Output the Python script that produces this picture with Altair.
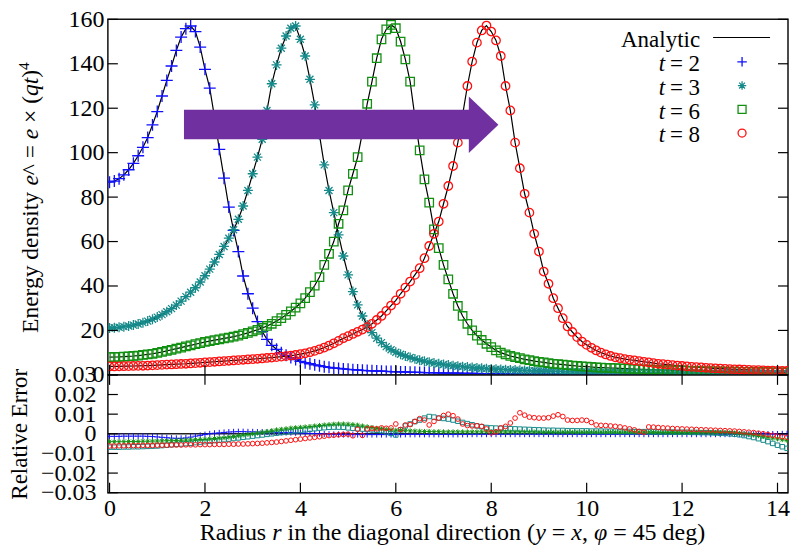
import altair as alt
import pandas as pd

# ---------------- data ----------------
R = [i / 10 for i in range(143)]          # sample radii 0.0 ... 14.2
T_VALUES = [2, 3, 6, 8]
COLORS = ["#1010ff", "#168a8a", "#129012", "#ff1010"]

E_T2 = [86.7, 87.2, 88.3, 90.0, 92.3, 95.2, 98.6, 102.4, 106.8, 112.5,
        118.5, 125.5, 132.5, 139.0, 146.0, 152.0, 155.8, 157.0, 154.5, 147.5,
        137.5, 129.0, 116.0, 101.5, 88.5, 75.5, 65.0, 55.5, 44.5, 36.5,
        30.0, 24.0, 19.5, 16.0, 13.3, 11.5, 10.0, 8.8, 7.8, 6.9,
        6.1, 5.5, 5.0, 4.5, 4.1, 3.7, 3.4, 3.1, 2.9, 2.7,
        2.5, 2.35, 2.2, 2.05, 1.95, 1.85, 1.75, 1.65, 1.55, 1.5,
        1.4, 1.35, 1.3, 1.2, 1.15, 1.1, 1.05, 1.0, 0.95, 0.9,
        0.85, 0.82, 0.78, 0.75, 0.72, 0.69, 0.66, 0.63, 0.6, 0.58,
        0.55, 0.53, 0.51, 0.49, 0.47, 0.46, 0.44, 0.43, 0.41, 0.4,
        0.39, 0.38, 0.37, 0.36, 0.35, 0.34, 0.33, 0.32, 0.31, 0.3,
        0.3, 0.29, 0.28, 0.27, 0.27, 0.26, 0.25, 0.25, 0.24, 0.23,
        0.23, 0.22, 0.22, 0.21, 0.21, 0.2, 0.2, 0.19, 0.19, 0.18,
        0.18, 0.18, 0.17, 0.17, 0.16, 0.16, 0.16, 0.15, 0.15, 0.15,
        0.14, 0.14, 0.14, 0.13, 0.13, 0.13, 0.13, 0.12, 0.12, 0.12,
        0.12, 0.11, 0.11]

E_T3 = [21.1, 21.2, 21.4, 21.7, 22.0, 22.4, 22.9, 23.5, 24.2, 25.0,
        26.0, 27.1, 28.4, 29.8, 31.4, 33.2, 35.2, 37.2, 39.2, 41.8,
        44.6, 47.6, 50.8, 54.2, 57.8, 61.5, 65.3, 70.0, 76.0, 83.0,
        90.5, 98.0, 106.0, 119.0, 131.0, 139.5, 147.0, 152.5, 156.0, 157.0,
        151.0, 143.5, 133.0, 121.5, 108.0, 94.5, 83.0, 73.0, 63.0, 53.5,
        45.0, 37.5, 31.5, 26.5, 22.5, 19.0, 16.5, 14.5, 12.7, 11.3,
        10.2, 9.3, 8.5, 7.8, 7.2, 6.6, 6.1, 5.7, 5.3, 5.0,
        4.7, 4.4, 4.1, 3.9, 3.7, 3.5, 3.3, 3.1, 3.0, 2.8,
        2.65, 2.55, 2.45, 2.35, 2.25, 2.15, 2.05, 1.97, 1.9, 1.83,
        1.77, 1.71, 1.66, 1.61, 1.56, 1.52, 1.48, 1.44, 1.4, 1.36,
        1.33, 1.3, 1.27, 1.24, 1.21, 1.18, 1.15, 1.12, 1.1, 1.07,
        1.05, 1.03, 1.01, 0.99, 0.97, 0.95, 0.93, 0.91, 0.89, 0.87,
        0.86, 0.85, 0.83, 0.82, 0.81, 0.8, 0.79, 0.78, 0.77, 0.76,
        0.75, 0.74, 0.73, 0.72, 0.71, 0.7, 0.69, 0.68, 0.67, 0.66,
        0.65, 0.64, 0.63]

E_T6 = [8.0, 8.05, 8.1, 8.2, 8.35, 8.5, 8.7, 8.95, 9.2, 9.5,
        9.9, 10.3, 10.8, 11.3, 11.8, 12.3, 12.8, 13.3, 13.8, 14.3,
        14.8, 15.2, 15.6, 16.0, 16.4, 16.8, 17.2, 17.7, 18.3, 18.9,
        19.6, 20.3, 21.1, 22.0, 23.0, 24.2, 25.5, 27.0, 28.6, 30.3,
        32.2, 34.5, 37.2, 40.2, 44.0, 49.5, 54.5, 60.0, 68.0, 74.0,
        83.0, 90.5, 98.0, 109.0, 122.0, 132.0, 142.5, 151.0, 155.5, 157.5,
        156.0, 150.0, 142.0, 132.0, 116.0, 101.0, 88.0, 77.5, 65.5, 57.0,
        49.5, 43.0, 36.5, 31.0, 26.5, 23.0, 20.0, 17.7, 15.7, 14.0,
        12.5, 11.0, 10.0, 9.2, 8.5, 8.0, 7.5, 7.0, 6.6, 6.2,
        5.9, 5.6, 5.3, 5.0, 4.8, 4.6, 4.4, 4.2, 4.0, 3.85,
        3.7, 3.55, 3.4, 3.3, 3.2, 3.1, 3.0, 2.9, 2.8, 2.7,
        2.6, 2.52, 2.45, 2.38, 2.31, 2.24, 2.17, 2.1, 2.04, 1.98,
        1.92, 1.87, 1.82, 1.77, 1.72, 1.67, 1.62, 1.58, 1.54, 1.5,
        1.46, 1.42, 1.38, 1.35, 1.32, 1.29, 1.26, 1.23, 1.2, 1.17,
        1.14, 1.12, 1.1]

E_T8 = [3.8, 3.8, 3.85, 3.9, 3.95, 4.0, 4.05, 4.1, 4.2, 4.3,
        4.4, 4.5, 4.6, 4.7, 4.8, 4.9, 5.0, 5.15, 5.3, 5.45,
        5.6, 5.75, 5.9, 6.05, 6.2, 6.35, 6.5, 6.65, 6.8, 6.95,
        7.1, 7.25, 7.4, 7.6, 7.8, 8.0, 8.2, 8.45, 8.7, 8.95,
        9.3, 9.7, 10.2, 10.8, 11.5, 12.3, 13.2, 14.2, 15.3, 16.5,
        17.4, 18.4, 19.4, 20.4, 21.5, 23.0, 24.7, 26.5, 28.8, 31.2,
        33.5, 36.5, 39.3, 42.0, 45.0, 48.0, 52.5, 58.0, 63.5, 69.0,
        77.0, 85.0, 94.0, 104.5, 117.0, 130.0, 141.0, 149.5, 155.0, 157.2,
        154.5, 150.5, 143.5, 130.0, 119.0, 104.5, 93.0, 81.5, 73.0, 63.5,
        55.5, 46.5, 41.0, 34.5, 30.0, 25.5, 21.8, 19.3, 17.0, 15.0,
        13.5, 12.2, 11.0, 10.0, 9.2, 8.5, 7.9, 7.5, 7.1, 6.8,
        6.5, 6.2, 5.9, 5.6, 5.3, 5.0, 4.8, 4.6, 4.4, 4.2,
        4.0, 3.8, 3.6, 3.5, 3.35, 3.2, 3.05, 2.9, 2.8, 2.7,
        2.6, 2.5, 2.42, 2.34, 2.26, 2.18, 2.1, 2.03, 1.96, 1.9,
        1.85, 1.8, 1.75]

ERR_T2 = [-0.0013, -0.0013, -0.0013, -0.0012, -0.0012, -0.0012, -0.0012, -0.0012, -0.0013, -0.0014,
          -0.0016, -0.0018, -0.0020, -0.0022, -0.0023, -0.0023, -0.0021, -0.0017, -0.0012, -0.0008,
          -0.0004, 0.0000, 0.0003, 0.0005, 0.0007, 0.0009, 0.0010, 0.0011, 0.0011, 0.0010,
          0.0010, 0.0009, 0.0009, 0.0008, 0.0008, 0.0007, 0.0007, 0.0006, 0.0006, 0.0005,
          0.0004, 0.0003, 0.0002, 0.0001, 0.0000, -0.0001, -0.0002, -0.0003, -0.0003, -0.0004,
          -0.0004, -0.0004, -0.0004, -0.0004, -0.0004, -0.0004, -0.0004, -0.0004, -0.0004, -0.0004,
          -0.0004, -0.0004, -0.0003, -0.0003, -0.0003, -0.0003, -0.0003, -0.0003, -0.0003, -0.0003,
          -0.0003, -0.0003, -0.0003, -0.0003, -0.0003, -0.0003, -0.0002, -0.0002, -0.0002, -0.0002,
          -0.0002, -0.0002, -0.0002, -0.0002, -0.0002, -0.0002, -0.0002, -0.0002, -0.0002, -0.0002,
          -0.0002, -0.0002, -0.0002, -0.0002, -0.0002, -0.0002, -0.0002, -0.0002, -0.0002, -0.0002,
          -0.0002, -0.0002, -0.0002, -0.0002, -0.0002, -0.0002, -0.0002, -0.0002, -0.0002, -0.0002,
          -0.0002, -0.0002, -0.0002, -0.0002, -0.0002, -0.0002, -0.0002, -0.0002, -0.0002, -0.0002,
          -0.0002, -0.0002, -0.0002, -0.0002, -0.0002, -0.0002, -0.0002, -0.0002, -0.0002, -0.0002,
          -0.0002, -0.0002, -0.0002, -0.0002, -0.0002, -0.0002, -0.0002, -0.0001, -0.0001, -0.0001,
          -0.0001, 0.0000, 0.0000]

ERR_T3 = [-0.0068, -0.0068, -0.0068, -0.0067, -0.0067, -0.0066, -0.0066, -0.0065, -0.0064, -0.0063,
          -0.0062, -0.0060, -0.0058, -0.0056, -0.0054, -0.0052, -0.0050, -0.0048, -0.0045, -0.0042,
          -0.0040, -0.0037, -0.0035, -0.0032, -0.0030, -0.0027, -0.0024, -0.0021, -0.0018, -0.0015,
          -0.0012, -0.0009, -0.0006, -0.0003, 0.0000, 0.0003, 0.0006, 0.0009, 0.0012, 0.0015,
          0.0017, 0.0020, 0.0023, 0.0026, 0.0029, 0.0031, 0.0033, 0.0034, 0.0034, 0.0033,
          0.0030, 0.0028, 0.0026, 0.0024, 0.0022, 0.0020, 0.0018, 0.0016, 0.0010, 0.0002,
          -0.0006, 0.0020, 0.0040, 0.0050, 0.0062, 0.0070, 0.0080, 0.0088, 0.0085, 0.0080,
          0.0078, 0.0075, 0.0070, 0.0064, 0.0058, 0.0052, 0.0046, 0.0040, 0.0036, 0.0032,
          0.0030, 0.0029, 0.0028, 0.0027, 0.0026, 0.0025, 0.0024, 0.0023, 0.0022, 0.0021,
          0.0020, 0.0019, 0.0018, 0.0018, 0.0017, 0.0017, 0.0016, 0.0016, 0.0015, 0.0015,
          0.0015, 0.0014, 0.0014, 0.0014, 0.0013, 0.0013, 0.0013, 0.0012, 0.0012, 0.0012,
          0.0011, 0.0011, 0.0011, 0.0010, 0.0010, 0.0010, 0.0009, 0.0009, 0.0009, 0.0008,
          0.0008, 0.0008, 0.0007, 0.0007, 0.0006, 0.0006, 0.0005, 0.0004, 0.0003, 0.0002,
          0.0000, -0.0002, -0.0005, -0.0009, -0.0014, -0.0019, -0.0025, -0.0032, -0.0040, -0.0049,
          -0.0058, -0.0066, -0.0074]

ERR_T6 = [-0.0040, -0.0040, -0.0040, -0.0040, -0.0039, -0.0039, -0.0039, -0.0038, -0.0038, -0.0037,
          -0.0037, -0.0036, -0.0035, -0.0035, -0.0034, -0.0033, -0.0032, -0.0031, -0.0030, -0.0029,
          -0.0028, -0.0026, -0.0024, -0.0022, -0.0020, -0.0017, -0.0014, -0.0010, -0.0006, -0.0003,
          0.0000, 0.0004, 0.0008, 0.0012, 0.0016, 0.0020, 0.0023, 0.0026, 0.0029, 0.0031,
          0.0033, 0.0035, 0.0037, 0.0040, 0.0042, 0.0045, 0.0047, 0.0049, 0.0050, 0.0050,
          0.0049, 0.0047, 0.0044, 0.0040, 0.0036, 0.0032, 0.0028, 0.0025, 0.0022, 0.0020,
          0.0018, 0.0017, 0.0016, 0.0015, 0.0014, 0.0013, 0.0012, 0.0012, 0.0011, 0.0011,
          0.0010, 0.0010, 0.0010, 0.0010, 0.0010, 0.0010, 0.0010, 0.0010, 0.0010, 0.0010,
          0.0010, 0.0010, 0.0010, 0.0009, 0.0009, 0.0009, 0.0009, 0.0009, 0.0009, 0.0009,
          0.0008, 0.0008, 0.0008, 0.0008, 0.0008, 0.0008, 0.0008, 0.0008, 0.0008, 0.0008,
          0.0008, 0.0008, 0.0008, 0.0008, 0.0008, 0.0008, 0.0008, 0.0008, 0.0008, 0.0008,
          0.0008, 0.0008, 0.0008, 0.0008, 0.0007, 0.0007, 0.0007, 0.0007, 0.0007, 0.0007,
          0.0007, 0.0007, 0.0007, 0.0007, 0.0007, 0.0007, 0.0007, 0.0007, 0.0007, 0.0007,
          0.0006, 0.0004, 0.0002, 0.0000, -0.0003, -0.0006, -0.0010, -0.0014, -0.0018, -0.0022,
          -0.0026, -0.0030, -0.0034]

ERR_T8 = [-0.0062, -0.0062, -0.0061, -0.0061, -0.0060, -0.0060, -0.0060, -0.0059, -0.0059, -0.0059,
          -0.0058, -0.0058, -0.0058, -0.0057, -0.0057, -0.0057, -0.0056, -0.0056, -0.0056, -0.0055,
          -0.0055, -0.0055, -0.0054, -0.0054, -0.0054, -0.0053, -0.0053, -0.0052, -0.0052, -0.0051,
          -0.0050, -0.0049, -0.0048, -0.0046, -0.0044, -0.0042, -0.0039, -0.0036, -0.0033, -0.0030,
          -0.0027, -0.0024, -0.0021, -0.0018, -0.0015, -0.0012, -0.0009, -0.0007, -0.0005, -0.0003,
          -0.0002, -0.0010, 0.0023, -0.0008, 0.0025, 0.0027, 0.0025, 0.0030, 0.0028, 0.0030,
          0.0050, 0.0022, 0.0045, 0.0047, 0.0063, 0.0077, 0.0070, 0.0045, 0.0063, 0.0080,
          0.0093, 0.0100, 0.0092, 0.0075, 0.0050, 0.0042, 0.0040, 0.0041, 0.0038, 0.0025,
          0.0005, 0.0010, 0.0030, 0.0038, 0.0055, 0.0080, 0.0107, 0.0095, 0.0085, 0.0082,
          0.0080, 0.0080, 0.0082, 0.0090, 0.0097, 0.0088, 0.0070, 0.0068, 0.0068, 0.0070,
          0.0068, 0.0058, 0.0045, 0.0043, 0.0042, 0.0040, 0.0038, 0.0035, 0.0030, 0.0025,
          0.0020, 0.0012, 0.0008, 0.0035, 0.0034, 0.0032, 0.0030, 0.0029, 0.0027, 0.0026,
          0.0025, 0.0024, 0.0023, 0.0022, 0.0021, 0.0020, 0.0019, 0.0018, 0.0017, 0.0016,
          0.0015, 0.0014, 0.0012, 0.0010, 0.0008, 0.0006, 0.0003, 0.0000, -0.0004, -0.0008,
          -0.0012, -0.0015, -0.0018]

XTICKS = [0, 2, 4, 6, 8, 10, 12, 14]
YTICKS_TOP = [0, 20, 40, 60, 80, 100, 120, 140, 160]
YTICKS_BOT = [-0.03, -0.02, -0.01, 0.0, 0.01, 0.02, 0.03]
ZERO = [0.0]

# arrow annotation in data units: tail, head base, tip / body low, body high, head low, head high, tip
ARROW_R = [1.56, 7.55, 8.15]
ARROW_V = [106.0, 119.3, 99.8, 125.3, 112.6]

# axis titles, split where the reference switches between upright and italic type
# (text, italic, start offset in em)
Y_TITLE = [("Energy density", False, 0.0), ("e", True, 6.277), ("^ =", False, 6.721),
           ("e", True, 8.254), ("× (", False, 8.948), ("qt", True, 10.095), (")", False, 10.873)]
Y_TITLE_SUP = ("4", 11.206)
Y_TITLE_LEN = 11.531
X_TITLE = [("Radius", False, 0.0), ("r", True, 3.028), ("in the diagonal direction (", False, 3.667),
           ("y", True, 13.999), ("=", False, 14.693), ("x", True, 15.507), (",", False, 15.951),
           ("φ", True, 16.451), ("= 45 deg)", False, 17.251)]
X_TITLE_LEN = 21.092

for arr in (E_T2, E_T3, E_T6, E_T8, ERR_T2, ERR_T3, ERR_T6, ERR_T8):
    assert len(arr) == len(R), len(arr)

# ---------------- styling ----------------
W, H1, H2 = 681, 356, 118
FONT = "Liberation Serif, Times New Roman, DejaVu Serif, serif"
FS = 23
LFS = 24
TICK = 10
PURPLE = "#7030a0"
PLUS = "M -1 0 L 1 0 M 0 -1 L 0 1"
STAR = "M -1 0 L 1 0 M 0 -1 L 0 1 M -0.7 -0.7 L 0.7 0.7 M -0.7 0.7 L 0.7 -0.7"

xs = alt.Scale(domain=[-0.035, 14.22], nice=False, zero=False)
ys_top = alt.Scale(domain=[0, 160], nice=False, zero=False)
ys_bot = alt.Scale(domain=[-0.03, 0.03], nice=False, zero=False)

AX_X_TOP = alt.Axis(labels=False, ticks=False, domain=False, grid=False, title=None)
AX_Y_TOP = alt.Axis(values=YTICKS_TOP, ticks=False, domain=False, grid=False,
                    labelPadding=4, labelOverlap=False, labelFlush=False, title=None)
AX_X_BOT = alt.Axis(values=XTICKS, ticks=False, domain=False, grid=False,
                    labelPadding=4, labelFlush=False, labelOverlap=False, title=None)
AX_Y_BOT = alt.Axis(values=YTICKS_BOT, ticks=False, domain=False, grid=False,
                    labelPadding=12, labelFlush=False, labelOverlap=False,
                    labelExpr="datum.value == 0 ? '0' : format(datum.value, '.2f')",
                    title="Relative Error", titleAngle=270, titleAlign="center",
                    titleBaseline="alphabetic", titleX=-81, titleY=H2 / 2)


def XT(field):
    return alt.X(f"{field}:Q", scale=xs, axis=AX_X_TOP)


def XB(field):
    return alt.X(f"{field}:Q", scale=xs, axis=AX_X_BOT)


def YT(field):
    return alt.Y(f"{field}:Q", scale=ys_top, axis=AX_Y_TOP)


def YB(field):
    return alt.Y(f"{field}:Q", scale=ys_bot, axis=AX_Y_BOT)


one = pd.DataFrame({"k": [0]})


def label(text, x, y, size=FS, italic=False, align="left", angle=0):
    kw = dict(font=FONT, fontSize=size, align=align, baseline="alphabetic", color="black",
              fontStyle="italic" if italic else "normal")
    if angle:
        kw["angle"] = angle
    return alt.Chart(one).mark_text(**kw).encode(
        x=alt.value(x), y=alt.value(y), text=alt.value(text))


# ---------------- top panel ----------------
energy = [E_T2, E_T3, E_T6, E_T8]
long_top = pd.DataFrame({
    "r": R * 4,
    "v": sum(energy, []),
    "series": sum([[f"t{t}"] * len(R) for t in T_VALUES], []),
})

top_layers = [
    alt.Chart(long_top).mark_line(color="black", strokeWidth=1.2, clip=True).encode(
        x=XT("r"), y=YT("v"), detail="series:N")
]

top_shapes = [PLUS, STAR, "square", "circle"]
top_sizes = [144, 100, 72, 72]
for vals, shp, sz, col in zip(energy, top_shapes, top_sizes, COLORS):
    df = pd.DataFrame({"r": R, "v": vals})
    top_layers.append(
        alt.Chart(df).mark_point(shape=shp, size=sz, filled=False, color=col, clip=True,
                                 strokeWidth=1.3, opacity=1).encode(x=XT("r"), y=YT("v")))

body_df = pd.DataFrame({"r": [ARROW_R[0]], "r2": [ARROW_R[1]],
                        "v": [ARROW_V[0]], "v2": [ARROW_V[1]]})
head_df = pd.DataFrame({"r": [ARROW_R[1] - 0.02, ARROW_R[2]],
                        "v": [ARROW_V[2], ARROW_V[4]], "hi": [ARROW_V[3], ARROW_V[4]]})
top_layers.append(alt.Chart(body_df).mark_rect(color=PURPLE, opacity=1).encode(
    x=XT("r"), x2="r2", y=YT("v"), y2="v2"))
top_layers.append(alt.Chart(head_df).mark_area(color=PURPLE, opacity=1).encode(
    x=XT("r"), y=YT("v"), y2="hi"))

xt_df = pd.DataFrame({"r": XTICKS})
ytt_df = pd.DataFrame({"v": YTICKS_TOP})
top_layers += [
    alt.Chart(xt_df).mark_rule(color="black", strokeWidth=1.2).encode(
        x=XT("r"), y=alt.value(H1), y2=alt.value(H1 - TICK)),
    alt.Chart(ytt_df).mark_rule(color="black", strokeWidth=1.2).encode(
        y=YT("v"), x=alt.value(0), x2=alt.value(TICK)),
    alt.Chart(ytt_df).mark_rule(color="black", strokeWidth=1.2).encode(
        y=YT("v"), x=alt.value(W - TICK), x2=alt.value(W)),
]

# y title (rotated, reads bottom to top)
YT_SIZE = 23.5
YT_X = -70
yt_start = 178.5 + Y_TITLE_LEN * YT_SIZE / 2
for txt, it, off in Y_TITLE:
    top_layers.append(label(txt, YT_X, yt_start - off * YT_SIZE, YT_SIZE, it, angle=270))
top_layers.append(label(Y_TITLE_SUP[0], YT_X - 9, yt_start - Y_TITLE_SUP[1] * YT_SIZE, 15.5,
                        False, angle=270))

# manual key (text on the left, sample on the right, as in the reference)
LEG_RIGHT, LEG_SYM, LEG_T = 593, 635, 558
LEG_BASE = [28, 51.8, 75.6, 99.4, 123.2]
SYM_DROP = 9.3
top_layers += [
    label("Analytic", LEG_RIGHT, LEG_BASE[0], align="right"),
    alt.Chart(one).mark_rule(color="black", strokeWidth=1.2).encode(
        x=alt.value(606), x2=alt.value(663), y=alt.value(LEG_BASE[0] - SYM_DROP - 0.5)),
]
leg_sizes = [90, 70, 64, 64]
for i, (t, shp, sz, col) in enumerate(zip(T_VALUES, top_shapes, leg_sizes, COLORS)):
    base = LEG_BASE[i + 1]
    top_layers += [
        label(f"= {t}", LEG_RIGHT, base, align="right"),
        label("t", LEG_T, base, italic=True, align="right"),
        alt.Chart(one).mark_point(shape=shp, size=sz, filled=False, color=col,
                                  strokeWidth=1.3, opacity=1).encode(
            x=alt.value(LEG_SYM), y=alt.value(base - SYM_DROP)),
    ]

top = alt.layer(*top_layers).properties(width=W, height=H1)

# ---------------- bottom panel ----------------
errors = [ERR_T2, ERR_T3, ERR_T6, ERR_T8]
bot_layers = [
    alt.Chart(pd.DataFrame({"e": ZERO})).mark_rule(color="#222222", strokeWidth=1.4).encode(
        y=YB("e")),
]
bot_shapes = [PLUS, "square", STAR, "circle"]
bot_sizes = [36, 20, 25, 22]
for vals, shp, sz, col in zip(errors, bot_shapes, bot_sizes, COLORS):
    df = pd.DataFrame({"r": R, "e": vals})
    bot_layers.append(
        alt.Chart(df).mark_point(shape=shp, size=sz, filled=False, color=col, clip=True,
                                 strokeWidth=1.0, opacity=1).encode(x=XB("r"), y=YB("e")))

ytb_df = pd.DataFrame({"e": YTICKS_BOT})
bot_layers += [
    alt.Chart(xt_df).mark_rule(color="black", strokeWidth=1.2).encode(
        x=XB("r"), y=alt.value(H2), y2=alt.value(H2 - TICK)),
    alt.Chart(xt_df).mark_rule(color="black", strokeWidth=1.2).encode(
        x=XB("r"), y=alt.value(0), y2=alt.value(TICK)),
    alt.Chart(ytb_df).mark_rule(color="black", strokeWidth=1.2).encode(
        y=YB("e"), x=alt.value(0), x2=alt.value(TICK)),
    alt.Chart(ytb_df).mark_rule(color="black", strokeWidth=1.2).encode(
        y=YB("e"), x=alt.value(W - TICK), x2=alt.value(W)),
]

# x title below the bottom panel
XT_SIZE = 24
xt_start = 345 - X_TITLE_LEN * XT_SIZE / 2
for txt, it, off in X_TITLE:
    bot_layers.append(label(txt, xt_start + off * XT_SIZE, H2 + 47, XT_SIZE, it))

bottom = alt.layer(*bot_layers).properties(width=W, height=H2)

chart = (
    alt.vconcat(top, bottom, spacing=0, bounds="flush")
    .properties(padding={"left": 0, "top": -2, "right": 0, "bottom": 0})
    .configure_view(stroke="#111111", strokeWidth=1.5)
    .configure_axis(labelFont=FONT, labelFontSize=LFS, titleFont=FONT, titleFontSize=FS,
                    titleFontWeight="normal", labelColor="black", titleColor="black")
)

chart.save("out.html", embed_options={"renderer": "svg", "actions": False})
